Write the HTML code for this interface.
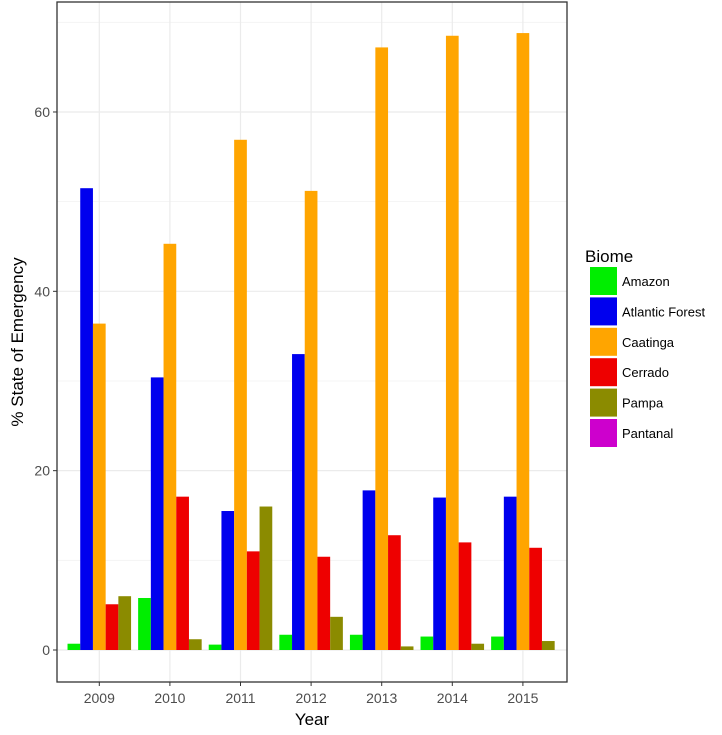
<!DOCTYPE html>
<html><head><meta charset="utf-8"><style>
body{margin:0;background:#fff;font-family:"Liberation Sans",sans-serif}
</style></head><body>
<svg id="c" width="722" height="730" font-family="Liberation Sans, sans-serif"></svg>
<script>
const years=["2009","2010","2011","2012","2013","2014","2015"];
const biomes=["Amazon","Atlantic Forest","Caatinga","Cerrado","Pampa","Pantanal"];
const colors=["#00ee00","#0000ee","#ffa500","#ee0000","#8b8b00","#cd00cd"];
const amazon=[0.7,5.8,0.6,1.7,1.7,1.5,1.5];
const atlantic=[51.5,30.4,15.5,33.0,17.8,17.0,17.1];
const caatinga=[36.4,45.3,56.9,51.2,67.2,68.5,68.8];
const cerrado=[5.1,17.1,11.0,10.4,12.8,12.0,11.4];
const pampa=[6.0,1.2,16.0,3.7,0.4,0.7,1.0];
const yTicks=[0,20,40,60];
const series=[amazon,atlantic,caatinga,cerrado,pampa];
const NS="http://www.w3.org/2000/svg",svg=document.getElementById('c');
function mk(t,a,p){const e=document.createElementNS(NS,t);for(const k in a)e.setAttribute(k,a[k]);(p||svg).appendChild(e);return e;}
const L=57,R=567,T=2,B=682;
const y=v=>650-v*8.967;
const x=i=>99.3+i*70.6;
const bw=70.6*0.9/series.length;
mk('rect',{x:L,y:T,width:R-L,height:B-T,fill:'#fff'});
for(let v=10;v<=70;v+=20){const g=mk('line',{x1:L,x2:R,y1:y(v),y2:y(v),stroke:'#f2f2f2','stroke-width':0.8});}
yTicks.forEach(v=>{const g=mk('line',{x1:L,x2:R,y1:y(v),y2:y(v),stroke:'#ebebeb','stroke-width':1.2});
const tk=mk('line',{x1:L-4,x2:L,y1:y(v),y2:y(v),stroke:'#333'});
const t=mk('text',{x:L-7,y:y(v)+5,'text-anchor':'end','font-size':14,fill:'#4d4d4d'});t.textContent=v;});
years.forEach((yr,i)=>{const g=mk('line',{x1:x(i),x2:x(i),y1:T,y2:B,stroke:'#ebebeb','stroke-width':1.2});});
years.forEach((yr,i)=>{series.forEach((s,j)=>{const x0=x(i)-70.6*0.45+j*bw;const r=mk('rect',{x:x0,y:y(s[i]),width:bw,height:y(0)-y(s[i]),fill:colors[j]});
});
const tk=mk('line',{x1:x(i),x2:x(i),y1:B,y2:B+4,stroke:'#333'});
const t=mk('text',{x:x(i),y:B+21,'text-anchor':'middle','font-size':14,fill:'#4d4d4d'});t.textContent=yr;});
const fr=mk('rect',{x:L,y:T,width:R-L,height:B-T,fill:'none',stroke:'#333','stroke-width':1.3});
let t=mk('text',{x:(L+R)/2,y:725,'text-anchor':'middle','font-size':17,fill:'#000'});t.textContent='Year';
t=mk('text',{x:0,y:0,'text-anchor':'middle','font-size':17,fill:'#000',transform:`translate(23,${(T+B)/2}) rotate(-90)`});t.textContent='% State of Emergency';
t=mk('text',{x:585,y:262,'font-size':17,fill:'#000'});t.textContent='Biome';
biomes.forEach((b,j)=>{const yy=266+j*30.4;const r=mk('rect',{x:590,y:yy+1,width:27,height:28,fill:colors[j]});
const tt=mk('text',{x:622,y:yy+20,'font-size':13,fill:'#000'});tt.textContent=b;});
</script></body></html>
